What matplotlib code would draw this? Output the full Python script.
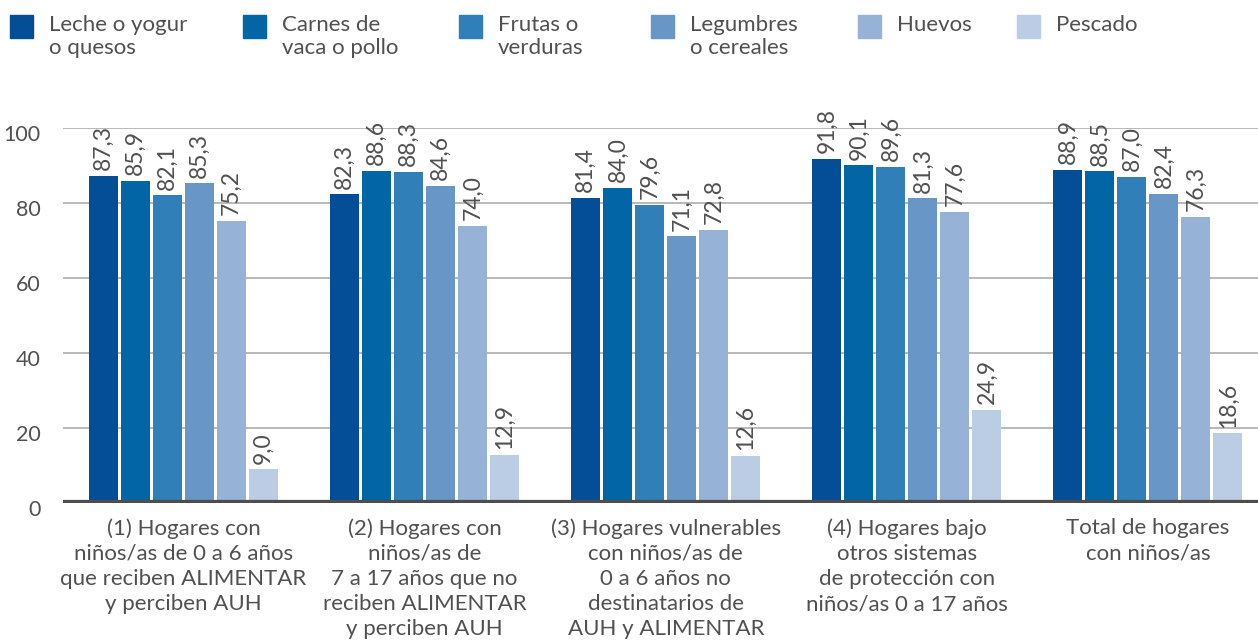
import numpy as np
import matplotlib.pyplot as plt
from matplotlib.patches import Rectangle
import matplotlib.transforms as mtransforms

plt.rcParams['font.family'] = ['Lato', 'DejaVu Sans']

# Data
groups = ['(1) Hogares con\nniños/as de 0 a 6 años\nque reciben ALIMENTAR\ny perciben AUH',
          '(2) Hogares con\nniños/as de\n7 a 17 años que no\nreciben ALIMENTAR\ny perciben AUH',
          '(3) Hogares vulnerables\ncon niños/as de\n0 a 6 años no\ndestinatarios de\nAUH y ALIMENTAR',
          '(4) Hogares bajo\notros sistemas\nde protección con\nniños/as 0 a 17 años',
          'Total de hogares\ncon niños/as']
series = ['Leche o yogur\no quesos', 'Carnes de\nvaca o pollo', 'Frutas o\nverduras',
          'Legumbres\no cereales', 'Huevos', 'Pescado']
leche = [87.3, 82.3, 81.4, 91.8, 88.9]
carnes = [85.9, 88.6, 84.0, 90.1, 88.5]
frutas = [82.1, 88.3, 79.6, 89.6, 87.0]
legumbres = [85.3, 84.6, 71.1, 81.3, 82.4]
huevos = [75.2, 74.0, 72.8, 77.6, 76.3]
pescado = [9.0, 12.9, 12.6, 24.9, 18.6]
values = [leche, carnes, frutas, legumbres, huevos, pescado]
colors = ['#034e96', '#0265a6', '#317fb8', '#6896c7', '#96b2d7', '#bbcde4']
text_col = '#505050'

W, H = 1258, 641
fig = plt.figure(figsize=(W / 100, H / 100), dpi=100)
ax = fig.add_axes([63 / W, (H - 503) / H, 1 - 63 / W, (503 - 128) / H])

x = np.arange(len(groups))
step = 32 / 241
width = 29 / 241
for i, (vals, col) in enumerate(zip(values, colors)):
    pos = x + (i - 2.5) * step
    bars = ax.bar(pos, vals, width=width, color=col, zorder=3)
    for b, v in zip(bars, vals):
        ax.annotate(f'{v:.1f}'.replace('.', ','),
                    (b.get_x() + b.get_width() / 2, v),
                    xytext=(0, 4), textcoords='offset points',
                    rotation=90, ha='center', va='bottom',
                    fontsize=16.5, color=text_col, annotation_clip=False)

ax.set_xlim(-0.5, (1258 - 184) / 241)
ax.set_ylim(0, 100)
ax.set_yticks([0, 20, 40, 60, 80, 100])
ax.grid(axis='y', color='#b3b3b3', lw=1.3, zorder=0)
ax.axhline(0, color='#4d4d4d', lw=4.5, zorder=4)
for s in ax.spines.values():
    s.set_visible(False)
ax.tick_params(axis='y', length=0, pad=16, labelsize=15.5, labelcolor=text_col)
ax.tick_params(axis='x', length=0, pad=11)
ax.set_xticks(x)
ax.set_xticklabels(groups, fontsize=16, color=text_col, linespacing=1.32)

offset = mtransforms.ScaledTranslation(0, -5 / 100, fig.dpi_scale_trans)
for lab in ax.get_yticklabels():
    lab.set_transform(lab.get_transform() + offset)

# Legend drawn by hand
sq_x = [10, 243, 459, 651, 858, 1017]
for sx, name, col in zip(sq_x, series, colors):
    fig.add_artist(Rectangle((sx / W, (H - 38) / H), 23 / W, 23 / H,
                             transform=fig.transFigure, color=col))
    fig.text((sx + 39) / W, (H - 15) / H, name, fontsize=16, color=text_col,
             va='top', ha='left', linespacing=1.2)

fig.savefig('out.png', dpi=100)
